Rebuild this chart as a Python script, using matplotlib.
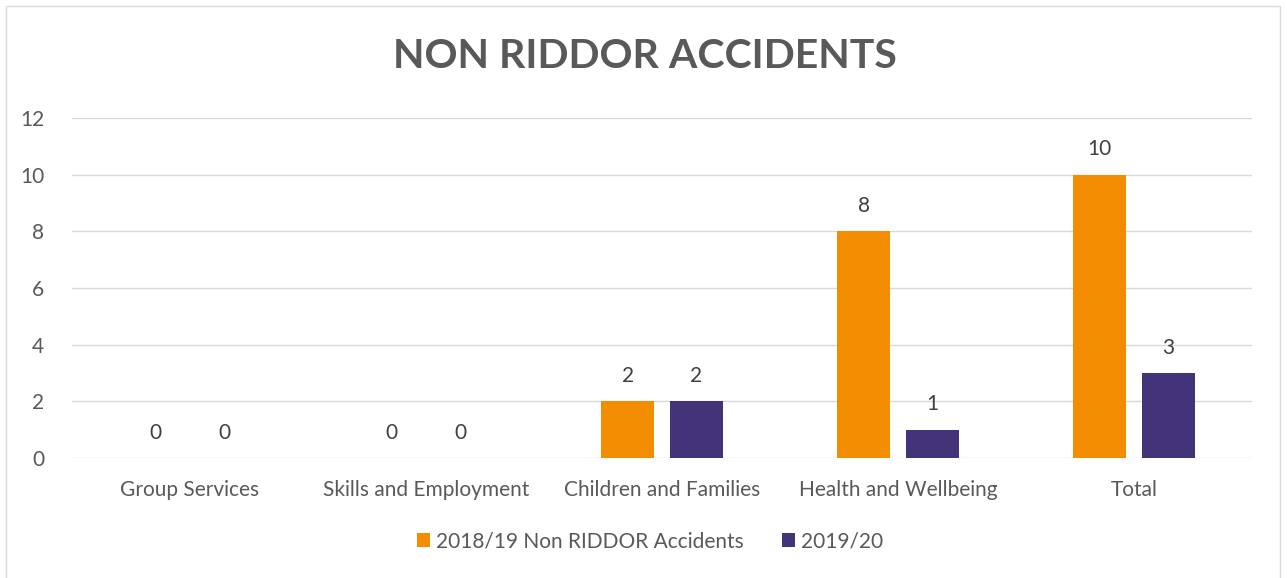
import matplotlib.pyplot as plt
import numpy as np

categories = ["Group Services", "Skills and Employment", "Children and Families",
              "Health and Wellbeing", "Total"]
accidents_2018 = [0, 0, 2, 8, 10]
accidents_2019 = [0, 0, 2, 1, 3]
series_names = ["2018/19 Non RIDDOR Accidents", "2019/20"]
yticks = [0, 2, 4, 6, 8, 10, 12]

ORANGE = "#f28c00"
PURPLE = "#433479"
TEXT = "#595959"

plt.rcParams['font.family'] = ['Lato', 'DejaVu Sans']

fig = plt.figure(figsize=(12.87, 5.78), dpi=100)
ax = fig.add_axes([72 / 1287, 1 - 458 / 578, 1180 / 1287, 340 / 578])

x = np.arange(len(categories))
w = 0.225
off = 0.145
b1 = ax.bar(x - off, accidents_2018, w, color=ORANGE, label=series_names[0], zorder=3)
b2 = ax.bar(x + off, accidents_2019, w, color=PURPLE, label=series_names[1], zorder=3)

for bars in (b1, b2):
    for rect in bars:
        h = rect.get_height()
        ax.annotate(f"{h:g}", (rect.get_x() + rect.get_width() / 2, h),
                    xytext=(0, 11), textcoords="offset points",
                    ha="center", va="bottom", fontsize=15, color="#404040")

ax.set_xlim(-0.5, len(categories) - 0.5)
ax.set_ylim(0, 12)
ax.set_yticks(yticks)
ax.set_xticks(x)
ax.set_xticklabels(categories)
ax.tick_params(axis="both", length=0, labelsize=15, labelcolor=TEXT)
ax.tick_params(axis="y", pad=20)
ax.tick_params(axis="x", pad=16)
ax.grid(axis="y", color="#d9d9d9", linewidth=1, zorder=0)
for s in ax.spines.values():
    s.set_visible(False)

fig.text(645 / 1287, 1 - 57 / 578, "NON RIDDOR ACCIDENTS", ha="center", va="center",
         fontsize=29.5, fontweight="bold", color=TEXT)

fig.legend(loc="center", bbox_to_anchor=(650 / 1287, 1 - 541 / 578), ncol=2,
           frameon=False, fontsize=15, labelcolor=TEXT, handlelength=0.65,
           handleheight=0.65, columnspacing=1.8, handletextpad=0.3)

border = plt.Rectangle((6 / 1287, -0.05), 1274 / 1287, 1.05 - 6 / 578,
                       transform=fig.transFigure, fill=False,
                       edgecolor="#d9d9d9", linewidth=1)
fig.patches.append(border)

fig.savefig("out.png", dpi=100)
